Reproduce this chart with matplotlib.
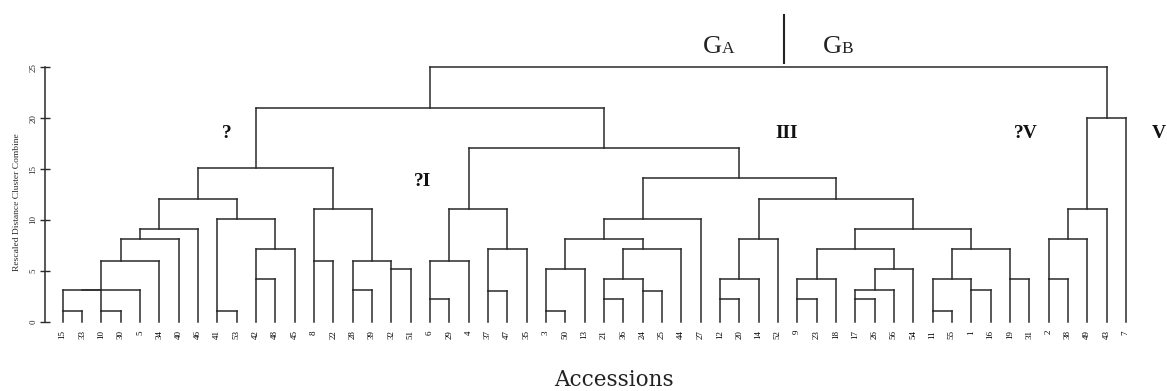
import math
import matplotlib
matplotlib.use("Agg")
import matplotlib.pyplot as plt
from matplotlib.lines import Line2D

# leaf order along the bottom (accession numbers)
leaves = [15, 33, 10, 30, 5, 34, 40, 46, 41, 53, 42, 48, 45, 8, 22, 28, 39, 32, 51,
          6, 29, 4, 37, 47, 35, 3, 50, 13, 21, 36, 24, 25, 44, 27, 12, 20, 14, 52,
          9, 23, 18, 17, 26, 56, 54, 11, 55, 1, 16, 19, 31, 2, 38, 49, 43, 7]

# merges: (name, left child, right child, rescaled distance)
# int child = accession, str child = earlier merge
merges = [
    ("m1", 15, 33, 1.1), ("m2", 10, 30, 1.1), ("m3", "m1", "m2", 3.1),
    ("m4", "m3", 5, 3.1), ("m5", "m4", 34, 6.0), ("m6", "m5", 40, 8.1),
    ("m7", "m6", 46, 9.1), ("m8", 41, 53, 1.1), ("m9", 42, 48, 4.2),
    ("m10", "m9", 45, 7.1), ("m11", "m8", "m10", 10.1), ("m12", "m7", "m11", 12.05),
    ("m13", 8, 22, 6.0), ("m14", 28, 39, 3.1), ("m15", 32, 51, 5.15),
    ("m16", "m14", "m15", 6.0), ("m17", "m13", "m16", 11.05), ("m18", "m12", "m17", 15.1),
    ("m19", 6, 29, 2.2), ("m20", "m19", 4, 6.0), ("m21", 37, 47, 3.05),
    ("m22", "m21", 35, 7.1), ("m23", "m20", "m22", 11.05), ("m24", 3, 50, 1.1),
    ("m25", "m24", 13, 5.15), ("m26", 21, 36, 2.2), ("m27", 24, 25, 3.05),
    ("m28", "m26", "m27", 4.2), ("m29", "m28", 44, 7.1), ("m30", "m25", "m29", 8.1),
    ("m31", "m30", 27, 10.1), ("m32", 12, 20, 2.2), ("m33", "m32", 14, 4.2),
    ("m34", "m33", 52, 8.1), ("m35", 9, 23, 2.2), ("m36", "m35", 18, 4.2),
    ("m37", 17, 26, 2.2), ("m38", "m37", 56, 3.1), ("m39", "m38", 54, 5.15),
    ("m40", "m36", "m39", 7.1), ("m41", 11, 55, 1.1), ("m42", 1, 16, 3.1),
    ("m43", "m41", "m42", 4.2), ("m44", 19, 31, 4.2), ("m45", "m43", "m44", 7.1),
    ("m46", "m40", "m45", 9.1), ("m47", "m34", "m46", 12.05), ("m48", "m31", "m47", 14.1),
    ("m49", "m23", "m48", 17.1), ("m50", "m18", "m49", 21.0),
    ("m51", 2, 38, 4.2), ("m52", "m51", 49, 8.1), ("m53", "m52", 43, 11.05),
    ("m54", "m53", 7, 20.05), ("m55", "m50", "m54", 25.0),
]

group_labels = ["?", "?I", "III", "?V", "V"]

W, H = 1167, 391
fig = plt.figure(figsize=(W / 100, H / 100), dpi=100)
ax = fig.add_axes([45 / W, 1 - 321.7 / H, (1150 - 45) / W, (321.7 - 67.3) / H])

line_kw = dict(color="#2a2a2a", lw=1.1, solid_capstyle="projecting", clip_on=False)

pos = {acc: i for i, acc in enumerate(leaves)}
hgt = {acc: 0.0 for acc in leaves}
for name, a, b, h in merges:
    xa, xb = pos[a], pos[b]
    ax.plot([xa, xa], [hgt[a], h], **line_kw)
    ax.plot([xb, xb], [hgt[b], h], **line_kw)
    ax.plot([xa, xb], [h, h], **line_kw)
    # SPSS style: joined cluster leaves from the (rounded down) middle row
    pos[name] = math.floor((xa + xb) / 2)
    hgt[name] = h

ax.set_xlim((45 - 62.7) / 19.33, (1150 - 62.7) / 19.33)
ax.set_ylim(0, 25)
for s in ["top", "right", "bottom"]:
    ax.spines[s].set_visible(False)
ax.spines["left"].set_color("#2a2a2a")
ax.spines["left"].set_linewidth(1.1)

ax.set_xticks(range(len(leaves)))
ax.set_xticklabels([str(v) for v in leaves], rotation=90, fontsize=6.5,
                   family="Liberation Serif", va="top")
ax.tick_params(axis="x", length=0, pad=6)
ax.set_yticks([0, 5, 10, 15, 20, 25])
ax.tick_params(axis="y", direction="inout", length=7, width=1, pad=2,
               labelsize=6.5, labelrotation=90, colors="#2a2a2a")
for t in ax.get_yticklabels():
    t.set_family("Liberation Serif")
    t.set_va("center")

fig.text(17 / W, 1 - 202 / H, "Rescaled Distance Cluster Combine", rotation=90,
         ha="center", va="center", fontsize=6.8, family="Liberation Serif", color="#2a2a2a")
fig.text(614 / W, 1 - 386 / H, "Accessions", ha="center", va="baseline",
         fontsize=15.5, family="DejaVu Serif", color="#222")

# cluster group labels
lab_xy = [(226.7, 133), (422.5, 181), (786.7, 133), (1026, 133), (1152, 133)]
for txt, (x, y) in zip(group_labels, lab_xy):
    ha = "left" if txt == "V" else "center"
    fig.text(x / W, 1 - y / H, txt, ha=ha, va="center", fontsize=14,
             fontweight="bold", family="Liberation Serif", color="#111")

# GA | GB annotation
fig.text(702.7 / W, 1 - 52.7 / H, "G", ha="left", va="baseline", fontsize=19,
         family="Liberation Serif", color="#222")
fig.text(721.5 / W, 1 - 52.7 / H, "A", ha="left", va="baseline", fontsize=12.5,
         family="Liberation Serif", color="#222")
fig.text(822.7 / W, 1 - 52.7 / H, "G", ha="left", va="baseline", fontsize=19,
         family="Liberation Serif", color="#222")
fig.text(841 / W, 1 - 52.7 / H, "B", ha="left", va="baseline", fontsize=12.5,
         family="Liberation Serif", color="#222")
fig.add_artist(Line2D([784.3 / W] * 2, [1 - 15 / H, 1 - 63.3 / H],
                      transform=fig.transFigure, color="#222", lw=1.5))

fig.savefig("out.png", dpi=100)
